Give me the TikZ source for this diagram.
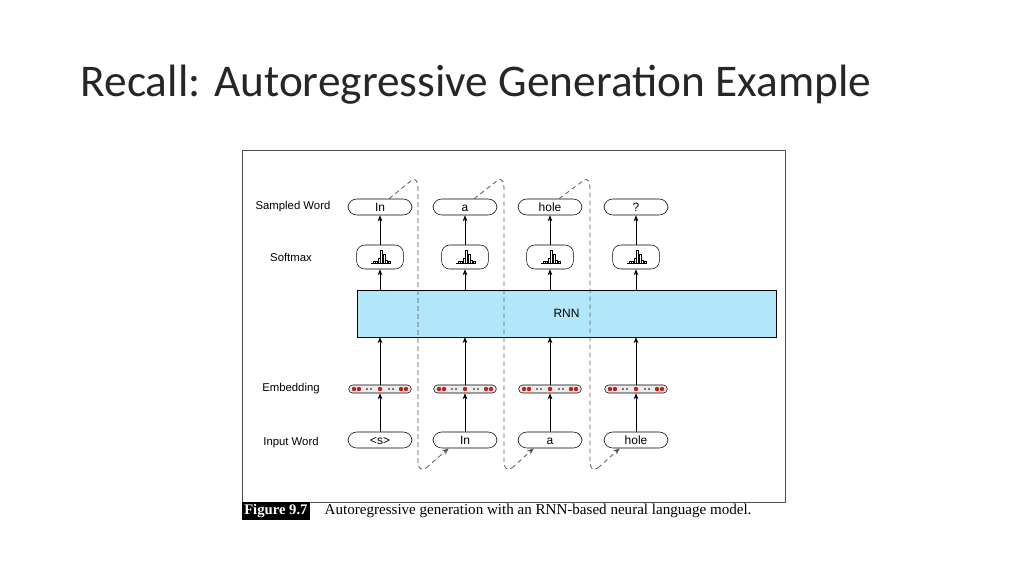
\documentclass[tikz,border=0pt]{standalone}
\usepackage{fontspec}
\setmainfont{Liberation Serif}
\setsansfont{Liberation Sans}
\newfontfamily\titlefont{Carlito}
\usetikzlibrary{arrows.meta,calc}
\definecolor{rnnblue}{RGB}{178,230,250}
\definecolor{dotred}{RGB}{200,30,20}
\tikzset{
  wordbox/.style={draw,rounded corners=6.5,minimum width=48,minimum height=12,inner sep=0,text height=7pt,text depth=1pt,font=\sffamily\fontsize{9}{9}\selectfont},
  softbox/.style={draw,rounded corners=6,minimum width=35,minimum height=18,inner sep=0},
  embbox/.style={draw,rounded corners=3,minimum width=47,minimum height=6,inner sep=0,fill=gray!15},
  rowlabel/.style={font=\sffamily\fontsize{8.5}{9}\selectfont},
  up/.style={-{Stealth[length=4.5pt,width=3.5pt]},line width=0.5pt},
  loop/.style={dash pattern=on 3.5pt off 2.5pt,gray!70!black,line width=0.6pt},
}
\begin{document}
\begin{tikzpicture}[x=0.75pt,y=-0.75pt]
\useasboundingbox (0,0) rectangle (1024,576);
%title
\node[anchor=west,font=\titlefont\fontsize{34}{38}\selectfont,text=black!85] (title) at (76,85) {Recall: Autoregressive Generation Example};
%frame
\draw[gray!60!black,line width=0.6pt] (242,150) rectangle (785,502);
%RNN
\node[draw,fill=rnnblue,minimum width=314,minimum height=35,inner sep=0,font=\sffamily\fontsize{9}{9}\selectfont] (rnn) at (566.5,313.5) {RNN};
%row labels
\node[rowlabel] (lsamp) at (293,207) {Sampled Word};
\node[rowlabel] (lsoft) at (291,257) {Softmax};
\node[rowlabel] (lemb) at (291,389) {Embedding};
\node[rowlabel] (linp) at (291,443) {Input Word};
%columns
\foreach \x/\inw/\outw [count=\i] in {380/{<s>}/In, 465/In/a, 550/a/hole, 636/hole/?}{
  \node[wordbox] (out\i) at (\x,207) {\outw};
  \node[softbox] (soft\i) at (\x,257) {};
  \foreach \bx/\bh in {-7/2,-4.5/2,-2/5,0.5/13,3/9,5.5/3,8/2}
    \draw[line width=0.4pt] (\x+\bx,263) rectangle ++(1.8,-\bh);
  \draw[line width=0.5pt] (\x-9,263) -- (\x+10,263);
  \node[embbox] (emb\i) at (\x,389) {};
  \foreach \dx in {-26,-21,0,21,26}
    \fill[dotred] (\x+\dx,389) circle (2.2);
  \foreach \dx in {-13,-9,9,13}
    \fill[black] (\x+\dx,389) circle (0.9);
  \node[wordbox] (in\i) at (\x,440) {\inw};
  \draw[up] (in\i) -- (emb\i);
  \draw[up] (emb\i) -- (rnn.south -| emb\i);
  \draw[up] (rnn.north -| soft\i) -- (soft\i);
  \draw[up] (soft\i) -- (out\i);
}
%feedback loops
\foreach \x/\i/\j in {418/1/2, 504/2/3, 590/3/4}{
  \coordinate (top\i) at ($(out\i.north)+(9,0)$);
  \coordinate (bot\j) at ($(in\j.south west)+(16,0)$);
  \draw[loop] (top\i) -- (\x-6,180) .. controls (\x-2,178) and (\x,182) .. (\x,188)
    -- (\x,462) .. controls (\x,468) and (\x+3,471) .. (\x+8,468);
  \draw[loop,-{Stealth[length=5pt,width=4pt]}] (\x+8,468) -- (bot\j);
}
%caption
\node[fill=black,text=white,font=\bfseries\fontsize{11}{12}\selectfont,inner sep=1.5pt,anchor=west] (fig) at (242,511) {Figure 9.7};
\node[anchor=west,font=\fontsize{11.3}{12}\selectfont] (cap) at (320,511) {Autoregressive generation with an RNN-based neural language model.};
\end{tikzpicture}
\end{document}
